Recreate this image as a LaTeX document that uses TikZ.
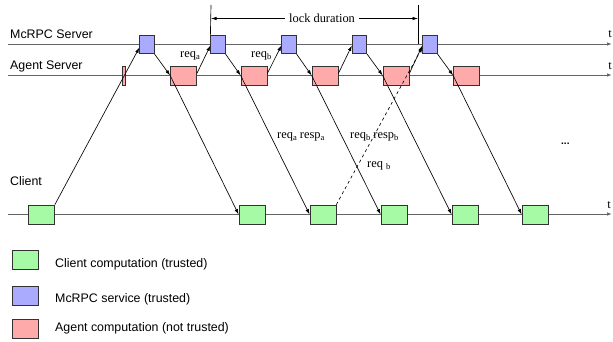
\documentclass[tikz,border=0pt]{standalone}
\usepackage{fontspec}
\setmainfont{Liberation Sans}
\newfontfamily\serifface{Liberation Serif}
\usetikzlibrary{arrows.meta,calc}
\definecolor{cgreen}{RGB}{166,250,166}
\definecolor{cblue}{RGB}{170,170,255}
\definecolor{cpink}{RGB}{255,170,170}
\definecolor{cline}{RGB}{100,100,100}
\definecolor{cedge}{RGB}{50,50,50}
\newcommand\subsc[1]{\raisebox{-0.5ex}{\fontsize{8.5}{9}\selectfont #1}}
\begin{document}
\begin{tikzpicture}[x=1pt,y=-1pt,
  lbl/.style={font=\fontsize{12.4}{14}\selectfont, inner sep=0pt},
  slbl/.style={font=\serifface\fontsize{12.4}{14}\selectfont, inner sep=0pt},
  box/.style={draw=cedge, line width=0.7pt, inner sep=0pt, minimum width=26pt, minimum height=19pt},
  bluebox/.style={box, fill=cblue, minimum width=14.5pt, minimum height=18.5pt},
  pinkbox/.style={box, fill=cpink},
  greenbox/.style={box, fill=cgreen},
  tline/.style={draw=cline, line width=0.9pt, -{Latex[length=5pt,width=3.5pt]}},
  arr/.style={draw=black, line width=0.65pt, -{Latex[length=5.5pt,width=3.5pt]}},
  plain/.style={draw=black, line width=0.65pt}]
\useasboundingbox (0,0) rectangle (613,341);

% time lines
\coordinate (m0) at (8,44);   \coordinate (m1) at (612,44);
\coordinate (a0) at (8,75);   \coordinate (a1) at (612,75);
\coordinate (c0) at (8,214);  \coordinate (c1) at (612,214);
\draw[tline] (m0) -- (m1);
\draw[tline] (a0) -- (a1);
\draw[tline] (c0) -- (c1);

\node[lbl, anchor=base west] (lm) at (10,38) {McRPC Server};
\node[lbl, anchor=base west] (la) at (10,69) {Agent Server};
\node[lbl, anchor=base west] (lc) at (10,185) {Client};
\node[slbl, anchor=base east] (tm) at (612,37) {t};
\node[slbl, anchor=base east] (ta) at (612,69) {t};
\node[slbl, anchor=base east] (tc) at (611,208) {t};

% boxes
\node[pinkbox, minimum width=3pt] (s0) at (124,75.5) {};
\foreach \i/\x in {1/147,2/218,3/289,4/359.5,5/430}
  \node[bluebox] (b\i) at (\x,44.5) {};
\foreach \i/\x in {1/183.5,2/254,3/325,4/396,5/466.5}
  \node[pinkbox] (p\i) at (\x,75.5) {};
\foreach \i/\x in {1/41.5,2/252,3/323,4/394,5/465,6/535}
  \node[greenbox] (g\i) at (\x,214.5) {};

% arrows
\draw[arr] (g1.north east) -- ([yshift=-3pt]b1.west);
\foreach \i/\j in {1/2,2/3,3/4,4/5,5/6}{
  \draw[arr] (b\i.south east) -- (p\i.west);
  \draw[arr] (p\i.west) -- (g\j.west);
}
\foreach \i/\j in {1/2,2/3,3/4,4/5}
  \draw[arr] ([yshift=2pt]p\i.east) -- ([yshift=-1pt]b\j.west);
\draw[arr, dashed] (g3.north east) -- ([yshift=-2.5pt]b5.west);

% lock duration
\coordinate (lt) at (211,5);
\coordinate (rt) at (418,5);
\coordinate (rb) at (418,44);
\draw[plain] (lt) -- (b2.north west);
\draw[plain] (rt) -- (rb);
\node[slbl, anchor=base] (lock) at (322,22.5) {lock duration};
\draw[arr] ([xshift=-4pt]lock.west |- 0,18.5) -- (211,18.5);
\draw[arr] ([xshift=4pt]lock.east |- 0,18.5) -- (418,18.5);

% labels
\node[slbl, anchor=base west] (ra) at (180,57) {req\subsc{a}};
\node[slbl, anchor=base west] (rb2) at (251,57) {req\subsc{b}};
\node[slbl, anchor=base west] (rra) at (277,138) {req\subsc{a} resp\subsc{a}};
\node[slbl, anchor=base west] (rrb) at (350,138) {req\subsc{b} resp\subsc{b}};
\node[slbl, anchor=base west] (rqb) at (367,167) {req \subsc{b}};
\node[lbl, anchor=base west, font=\bfseries\fontsize{10}{11}\selectfont] (dots) at (561,144) {...};

% legend
\node[greenbox] (lg) at (25,259.5) {};
\node[bluebox, minimum width=26pt, minimum height=19pt] (lb) at (25,295.5) {};
\node[pinkbox] (lp) at (25,328.5) {};
\node[lbl, anchor=base west] (tg) at (55,267) {Client computation (trusted)};
\node[lbl, anchor=base west] (tb) at (55,302.5) {McRPC service (trusted)};
\node[lbl, anchor=base west] (tp) at (55,331.5) {Agent computation (not trusted)};
\end{tikzpicture}
\end{document}
